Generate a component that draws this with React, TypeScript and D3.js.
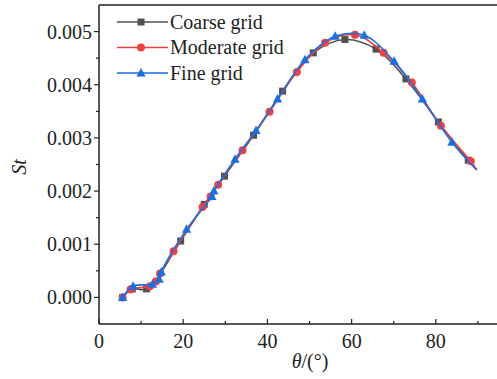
import React from "react";
import * as d3 from "d3";

const coarseTheta = [5.6, 7.9, 11.3, 19.4, 25.0, 29.8, 36.7, 43.6, 50.9, 58.4, 65.8, 72.9, 80.6, 87.7, 89.7];
const coarseSt = [0.0, 0.00016, 0.00016, 0.00106, 0.00175, 0.00228, 0.00305, 0.00388, 0.0046, 0.00485, 0.00467, 0.00411, 0.0033, 0.00258, 0.0024];

const moderateTheta = [5.6, 7.5, 12.1, 13.5, 14.5, 17.7, 24.6, 26.5, 28.3, 34.1, 40.5, 47.0, 53.7, 60.8, 67.6, 74.3, 81.2, 88.3, 89.7];
const moderateSt = [0.0, 0.00015, 0.00021, 0.0003, 0.00045, 0.00087, 0.0017, 0.0019, 0.00212, 0.00277, 0.00349, 0.00424, 0.00479, 0.00494, 0.0046, 0.00404, 0.00323, 0.00256, 0.0024];

const fineTheta = [5.6, 8.1, 12.7, 14.3, 14.8, 20.8, 26.8, 27.3, 32.3, 37.3, 42.4, 48.9, 56.1, 63.0, 70.1, 76.8, 83.8, 89.7];
const fineSt = [0.0, 0.00021, 0.00025, 0.00034, 0.00048, 0.00128, 0.0019, 0.002, 0.0026, 0.00314, 0.00373, 0.00447, 0.00491, 0.00493, 0.00444, 0.00373, 0.00292, 0.0024];

const seriesNames = ["Coarse grid", "Moderate grid", "Fine grid"];
const xTicks = [0, 20, 40, 60, 80];
const xMinor = [10, 30, 50, 70, 90];
const yTicks = [0, 0.001, 0.002, 0.003, 0.004, 0.005];
const yMinor = [0.0005, 0.0015, 0.0025, 0.0035, 0.0045];

const W = 497, H = 379;
const L = 99, R = 499, T = 5, B = 324;
const FONT = "Liberation Serif, Times New Roman, DejaVu Serif, serif";
const txt = { fontFamily: FONT, fontSize: 20, fill: "#222" } as React.CSSProperties;

export default function App() {
  const x = d3.scaleLinear().domain([0, 95]).range([L, R]);
  const y = d3.scaleLinear().domain([-0.0005, 0.0055]).range([B, T]);
  const line = d3.line<[number, number]>().x(d => x(d[0])).y(d => y(d[1])).curve(d3.curveCatmullRom.alpha(0.5));

  const series = [
    { name: seriesNames[0], th: coarseTheta, st: coarseSt, color: "#515151", marker: "square" },
    { name: seriesNames[1], th: moderateTheta, st: moderateSt, color: "#F14040", marker: "circle" },
    { name: seriesNames[2], th: fineTheta, st: fineSt, color: "#1A6FDF", marker: "triangle" },
  ];

  const drawMarker = (m: string, cx: number, cy: number, color: string, key: string) => {
    if (m === "square") return <rect key={key} x={cx - 3.5} y={cy - 3.5} width={7} height={7} fill={color} />;
    if (m === "circle") return <circle key={key} cx={cx} cy={cy} r={4} fill={color} />;
    return <path key={key} d={`M${cx},${cy - 5} L${cx + 4.6},${cy + 3.5} L${cx - 4.6},${cy + 3.5} Z`} fill={color} />;
  };

  const legendY = [22, 47.5, 73];

  return (
    <svg width={W} height={H} style={{ position: "absolute", left: 0, top: 0 }}>
      <rect width={W} height={H} fill="#fff" />
      {series.map((s, i) => {
        const pts = s.th.map((t, j) => [t, s.st[j]] as [number, number]);
        return (
          <g key={s.name}>
            <path d={line(pts) || ""} fill="none" stroke={s.color} strokeWidth={1.6} />
            {pts.slice(0, -1).map((p, j) => drawMarker(s.marker, x(p[0]), y(p[1]), s.color, `${i}-${j}`))}
          </g>
        );
      })}
      <line x1={L} x2={L} y1={T} y2={B} stroke="#222" strokeWidth={1.5} />
      <line x1={L} x2={R} y1={B} y2={B} stroke="#222" strokeWidth={1.5} />
      <line x1={L} x2={R} y1={T} y2={T} stroke="#222" strokeWidth={1.5} />
      {yTicks.map(v => (
        <g key={`y${v}`}>
          <line x1={L - 5} x2={L} y1={y(v)} y2={y(v)} stroke="#222" strokeWidth={1.2} />
          <text x={92} y={y(v)} dy="0.35em" textAnchor="end" style={txt}>{v.toFixed(3)}</text>
        </g>
      ))}
      {yMinor.map(v => (
        <line key={`ym${v}`} x1={L - 3} x2={L} y1={y(v)} y2={y(v)} stroke="#222" strokeWidth={1.2} />
      ))}
      {xTicks.map(v => (
        <g key={`x${v}`}>
          <line x1={x(v)} x2={x(v)} y1={B - 5} y2={B} stroke="#222" strokeWidth={1.2} />
          <text x={x(v)} y={347.5} textAnchor="middle" style={txt}>{v}</text>
        </g>
      ))}
      {xMinor.map(v => (
        <line key={`xm${v}`} x1={x(v)} x2={x(v)} y1={B - 3} y2={B} stroke="#222" strokeWidth={1.2} />
      ))}
      <text x={310} y={368} textAnchor="middle" style={txt}>
        <tspan fontStyle="italic">θ</tspan>/(°)
      </text>
      <text transform={`translate(26,167) rotate(-90)`} textAnchor="middle" style={{ ...txt, fontStyle: "italic" }}>St</text>
      {series.map((s, i) => (
        <g key={`lg${i}`}>
          <line x1={117} x2={168} y1={legendY[i]} y2={legendY[i]} stroke={s.color} strokeWidth={1.6} />
          {drawMarker(s.marker, 141, legendY[i], s.color, `lm${i}`)}
          <text x={170} y={legendY[i]} dy="0.33em" style={txt}>{s.name}</text>
        </g>
      ))}
    </svg>
  );
}
